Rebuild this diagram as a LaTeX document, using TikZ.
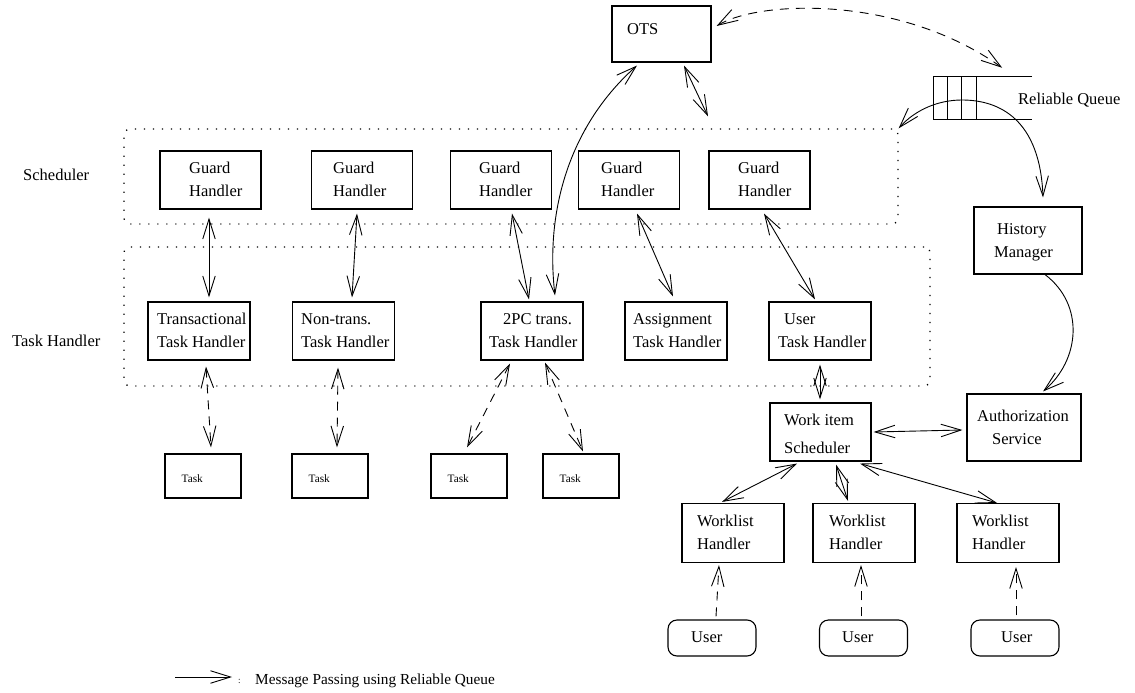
\documentclass[tikz,border=0pt]{standalone}
\usepackage{fontspec}
\setmainfont{Liberation Serif}
\usetikzlibrary{arrows.meta,calc}
% two stacked lines whose baseline is that of the first line
\newcommand\twoln[2]{\vtop{\hbox{#1}\hbox{#2}}}
\begin{document}
\begin{tikzpicture}[x=1pt,y=-1pt,
  >={Straight Barb[length=20pt,width=12.5pt]},
  box/.style={draw, line width=1.1pt, inner sep=0pt},
  userbox/.style={box, rounded corners=9pt},
  group/.style={draw, line width=1.3pt, dash pattern=on 1.2pt off 7.8pt, rounded corners=6pt, inner sep=0pt},
  txt/.style={anchor=base west, inner sep=0pt, font=\fontsize{16.5}{23}\selectfont},
  small/.style={anchor=base west, inner sep=0pt, font=\fontsize{11.3}{13}\selectfont},
  conn/.style={<->, line width=0.9pt},
  conn1/.style={->, line width=0.9pt},
  dashes/.style={dash pattern=on 9pt off 7pt}
]
\useasboundingbox (0,0) rectangle (1135,693);

% ---- dotted groups ----
\node[group, minimum width=774pt, minimum height=95pt] (sched) at (511,176.5) {};
\node[group, minimum width=806pt, minimum height=139pt] (th) at (527,316.5) {};
\node[txt] (sched-l) at (23,180) {Scheduler};
\node[txt] (th-l) at (12,346) {Task Handler};

% ---- OTS ----
\node[box, minimum width=99pt, minimum height=56pt] (ots) at (661.5,34) {};
\node[txt] (ots-t) at (627,35) {OTS};

% ---- reliable queue ----
\node[inner sep=0pt, minimum width=98pt, minimum height=42pt] (queue) at (983,98) {};
\draw[line width=1.1pt] (queue.north east) -- (queue.north west) -- (queue.south west) -- (queue.south east);
\foreach \d in {14,28,43}
  \draw[line width=1.1pt] ($(queue.north west)+(\d,0)$) -- ($(queue.south west)+(\d,0)$);
\node[txt] (queue-l) at (1018,104) {Reliable Queue};

% ---- guard handlers ----
\foreach \n/\cx/\tx in {g1/210.5/189, g2/362/333, g3/501/479, g4/629/601, g5/759.5/738}{
  \node[box, minimum width=101pt, minimum height=58pt] (\n) at (\cx,180) {};
  \node[txt] (\n-t) at (\tx,173) {\twoln{Guard}{Handler}};
}

% ---- task handlers ----
\node[box, minimum width=102pt, minimum height=58pt] (t1) at (199,331) {};
\node[box, minimum width=102pt, minimum height=58pt] (t2) at (343.5,331) {};
\node[box, minimum width=102pt, minimum height=58pt] (t3) at (532,331) {};
\node[box, minimum width=102pt, minimum height=58pt] (t4) at (676,331) {};
\node[box, minimum width=102pt, minimum height=58pt] (t5) at (820,331) {};
\node[txt] (t1-t) at (157,324) {\twoln{Transactional}{Task Handler}};
\node[txt] (t2-t) at (301,324) {\twoln{Non-trans.}{Task Handler}};
\node[txt] (t3-t) at (489,324) {\twoln{\kern14pt 2PC trans.}{Task Handler}};
\node[txt] (t4-t) at (633,324) {\twoln{Assignment}{Task Handler}};
\node[txt] (t5-t) at (778,324) {\twoln{\kern6pt User}{Task Handler}};

% ---- tasks ----
\foreach \n/\cx in {k1/203, k2/330, k3/469, k4/581}{
  \node[box, minimum width=76pt, minimum height=44pt] (\n) at (\cx,476) {};
  \node[small] (\n-t) at ($(\n.west)+(17,6)$) {Task};
}

% ---- right-hand services ----
\node[box, minimum width=108pt, minimum height=67pt] (hm) at (1028,240.5) {};
\node[txt] (hm-t) at (994,234) {\twoln{\kern3pt History}{Manager}};
\node[box, minimum width=114pt, minimum height=67pt] (auth) at (1024,427.5) {};
\node[txt] (auth-t) at (977,421) {\twoln{Authorization}{\kern15pt Service}};
\node[box, minimum width=101pt, minimum height=58pt] (wis) at (820.5,432) {};
\node[txt, font=\fontsize{16.5}{28}\selectfont] (wis-t) at (784,425) {\twoln{Work item}{Scheduler}};

% ---- worklist handlers and users ----
\foreach \n/\cx/\tx in {w1/733/697, w2/864/829, w3/1008/972}{
  \node[box, minimum width=102pt, minimum height=59pt] (\n) at (\cx,533) {};
  \node[txt] (\n-t) at (\tx,526) {\twoln{Worklist}{Handler}};
}
\foreach \n/\cx/\tx in {u1/712/691, u2/863.5/842, u3/1015/1001}{
  \node[userbox, minimum width=88pt, minimum height=36pt] (\n) at (\cx,638) {};
  \node[txt] (\n-t) at (\tx,642) {User};
}

% ---- message passing between scheduler and task handlers ----
\draw[conn] ($(g1.south)+(-1.5,8)$) -- ($(t1.north)+(10,-4)$);
\draw[conn] ($(g2.south)+(-5,4)$) -- ($(t2.north)+(8.5,-4)$);
\draw[conn] ($(g3.south)+(11,4)$) -- ($(t3.north)+(-3,-2)$);
\draw[conn] ($(g4.south)+(8,4)$) -- ($(t4.north)+(-3,-5)$);
\draw[conn] ($(g5.south)+(4.5,4)$) -- ($(t5.north)+(-5,-2)$);

% ---- OTS links ----
\draw[conn] ($(ots.south)+(22.5,3)$) -- ($(sched.north)+(197,-12)$);
\draw[conn] ($(ots.south)+(-24.5,3)$) .. controls (570,125) and (545,210) .. ($(t3.north)+(23,-6)$);
\draw[conn, dashes] ($(ots.east)+(5,-8)$) .. controls (760,0) and (900,-5) .. ($(queue.north east)+(-30,-9)$);

% ---- queue to scheduler and history manager ----
\draw[conn] (sched.north east) .. controls (915,110) and (938,100) .. (962,100)
  .. controls (1000,100) and (1040,120) .. ($(hm.north)+(15,-9)$);
\draw[conn1] ($(hm.south)+(17,0)$) .. controls (1085,305) and (1080,360) .. ($(auth.north)+(19,-2)$);

% ---- task handlers to tasks ----
\draw[conn, dashes] ($(t1.south)+(7,6)$) -- ($(k1.north)+(8,-6)$);
\draw[conn, dashes] ($(t2.south)+(-5.5,7)$) -- ($(k2.north)+(7,-6)$);
\draw[conn, dashes] ($(t3.south)+(-22,3)$) -- ($(k3.north)+(-2,-6)$);
\draw[conn, dashes] ($(t3.south)+(13,2)$) -- ($(k4.north)+(2,-2)$);

% ---- user side ----
\draw[conn] ($(t5.south)+(0,4)$) -- ($(wis.north)+(-0.5,-3)$);
\draw[conn] ($(wis.east)+(2,0)$) -- ($(auth.west)+(-4,2.5)$);
\draw[conn] ($(wis.south)+(-23.5,2)$) -- ($(w1.north)+(-11,-1)$);
\draw[conn] ($(wis.south)+(15.5,3)$) -- ($(w2.north)+(-16,-2)$);
\draw[conn] ($(wis.south)+(39.5,2)$) -- ($(w3.north)+(-11,0)$);
\draw[conn1, dashes] ($(u1.north)+(4,-3)$) -- ($(w1.south)+(-14,2)$);
\draw[conn1, dashes] ($(u2.north)+(-2.5,-3)$) -- ($(w2.south)+(-3,2)$);
\draw[conn1, dashes] ($(u3.north)+(1,-4)$) -- ($(w3.south)+(8,4)$);

% ---- legend ----
\coordinate (lg-a) at (175,677);
\coordinate (lg-b) at (232,677);
\draw[conn1] (lg-a) -- (lg-b);
\node[anchor=base west, inner sep=0pt, font=\fontsize{9}{9}\selectfont] (lg-c) at (238,683) {:};
\node[txt, font=\fontsize{15.3}{18}\selectfont] (lg-t) at (255,684) {Message Passing using Reliable Queue};
\end{tikzpicture}
\end{document}
